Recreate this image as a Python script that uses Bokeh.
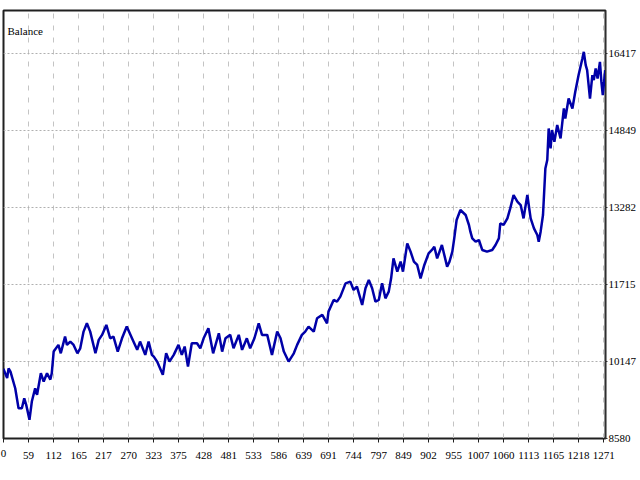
from bokeh.plotting import figure
from bokeh.models import FixedTicker, Range1d, Label, LinearAxis
from bokeh.embed import file_html
from bokeh.resources import INLINE

# trade number and balance
trade = [6, 14, 17, 21, 31, 38, 45, 50, 54, 61, 66, 73, 77, 85, 91, 98, 105, 108, 112, 122,
         127, 136, 140, 147, 154, 162, 168, 175, 182, 189, 200, 207, 214, 223, 231, 238, 247, 256, 266, 277,
         288, 294, 305, 312, 319, 323, 330, 342, 349, 356, 365, 375, 382, 388, 395, 403, 414, 421, 428, 438,
         448, 460, 467, 474, 484, 491, 502, 509, 519, 526, 535, 544, 551, 562, 572, 583, 590, 597, 607, 618,
         625, 635, 642, 649, 660, 667, 678, 688, 691, 702, 709, 716, 727, 737, 744, 751, 762, 769, 776, 783,
         790, 797, 804, 811, 818, 823, 828, 836, 843, 848, 857, 864, 871, 878, 885, 893, 902, 909, 914, 920,
         930, 941, 946, 952, 956, 961, 969, 980, 987, 990, 994, 1001, 1008, 1015, 1025, 1036, 1043, 1050, 1053, 1060,
         1068, 1074, 1081, 1089, 1096, 1102, 1110, 1117, 1124, 1131, 1134, 1138, 1143, 1148, 1152, 1155, 1159, 1162, 1167, 1173,
         1180, 1187, 1190, 1197, 1205, 1211, 1218, 1226, 1229, 1233, 1236, 1242, 1247, 1250, 1254, 1258, 1263, 1266, 1269, 1274]
balance = [10000, 9810, 10010, 9944, 9604, 9197, 9197, 9400, 9272, 8961, 9333, 9604, 9470, 9909, 9740, 9909, 9781, 9909, 10351, 10487,
           10316, 10656, 10487, 10555, 10487, 10316, 10418, 10758, 10927, 10758, 10316, 10589, 10691, 10894, 10622, 10656, 10351, 10622, 10860, 10622,
           10386, 10555, 10284, 10555, 10284, 10249, 10147, 9877, 10316, 10147, 10284, 10487, 10284, 10453, 10046, 10520, 10520, 10418, 10622, 10825,
           10316, 10724, 10351, 10622, 10691, 10418, 10691, 10386, 10622, 10418, 10622, 10927, 10691, 10691, 10284, 10758, 10622, 10351, 10147, 10316,
           10487, 10691, 10758, 10860, 10758, 11029, 11098, 10927, 11165, 11403, 11369, 11471, 11741, 11776, 11607, 11674, 11302, 11640, 11811, 11640,
           11369, 11403, 11741, 11436, 11572, 11843, 12250, 11980, 12183, 11980, 12556, 12387, 12183, 12115, 11843, 12116, 12352, 12421, 12488, 12250,
           12523, 12081, 12183, 12387, 12657, 13032, 13235, 13134, 12930, 12794, 12657, 12590, 12624, 12421, 12387, 12421, 12523, 12657, 12963, 12930,
           13064, 13268, 13541, 13404, 13337, 13064, 13541, 13064, 12861, 12727, 12590, 12794, 13134, 14082, 14253, 14897, 14489, 14864, 14626, 14966,
           14693, 15304, 15100, 15507, 15304, 15644, 15984, 16321, 16458, 16187, 16085, 15507, 15984, 15882, 16118, 15914, 16254, 15850, 15576, 16085]

x_tick_labels = ["0", "59", "112", "165", "217", "270", "323", "375", "428", "481", "533", "586", "639",
                 "691", "744", "797", "849", "902", "955", "1007", "1060", "1113", "1165", "1218", "1271"]
y_ticks = [8580, 10147, 11715, 13282, 14849, 16417]

step = 52.7
x_ticks = [59 - step] + [float(v) for v in x_tick_labels[1:]]

FONT = "Liberation Sans Narrow"

p = figure(frame_width=602, frame_height=428, output_backend="svg", toolbar_location=None,
           x_range=Range1d(x_ticks[0], 1274.7), y_range=Range1d(8580, 17300),
           min_border_left=3, min_border_top=10, min_border_right=27, min_border_bottom=34,
           background_fill_color="white", border_fill_color="white")
p.outline_line_color = "#202020"
p.outline_line_width = 2

p.yaxis.visible = False
xa = p.xaxis[0]
xa.ticker = FixedTicker(ticks=x_ticks)
overrides = {x_ticks[i]: x_tick_labels[i] for i in range(1, len(x_ticks))}
overrides[x_ticks[0]] = ""
xa.major_label_overrides = overrides
xa.major_label_text_align = "right"
xa.major_label_text_font = FONT
xa.major_label_text_font_size = "11px"
xa.major_label_text_color = "black"
xa.major_label_standoff = 9
xa.axis_line_color = "#202020"
xa.axis_line_width = 1
xa.major_tick_out = 4
xa.major_tick_in = 0
xa.major_tick_line_color = "#202020"
xa.minor_tick_line_color = None
# first tick label ("0") is drawn at the start of the axis, left aligned
xa.axis_label = x_tick_labels[0]
xa.axis_label_align = "start"
xa.axis_label_standoff = -12
xa.axis_label_text_font = FONT
xa.axis_label_text_font_size = "11px"
xa.axis_label_text_font_style = "normal"
xa.axis_label_text_color = "black"

ry = LinearAxis(ticker=FixedTicker(ticks=y_ticks))
ry.major_label_text_font = FONT
ry.major_label_text_font_size = "11px"
ry.major_label_text_color = "black"
ry.major_label_standoff = 1
ry.axis_line_color = "#303030"
ry.axis_line_width = 1
ry.major_tick_out = 2
ry.major_tick_in = 0
ry.major_tick_line_color = "#303030"
ry.minor_tick_line_color = None
p.add_layout(ry, "right")

p.xgrid.grid_line_color = "#c4c4c4"
p.xgrid.grid_line_dash = "5 7"
p.xgrid.grid_line_width = 1
p.ygrid.grid_line_color = "#b0b0b0"
p.ygrid.grid_line_dash = "2 2"
p.ygrid.grid_line_width = 1
p.ygrid.ticker = FixedTicker(ticks=y_ticks)

p.line(trade, balance, line_color="#0000a8", line_width=2.5)

p.add_layout(Label(x=4, y=408, x_units="screen", y_units="screen", text="Balance",
                   text_font=FONT, text_font_size="11px", text_color="black",
                   text_baseline="middle", text_align="left"))

open("out.html", "w").write(file_html(p, INLINE))
